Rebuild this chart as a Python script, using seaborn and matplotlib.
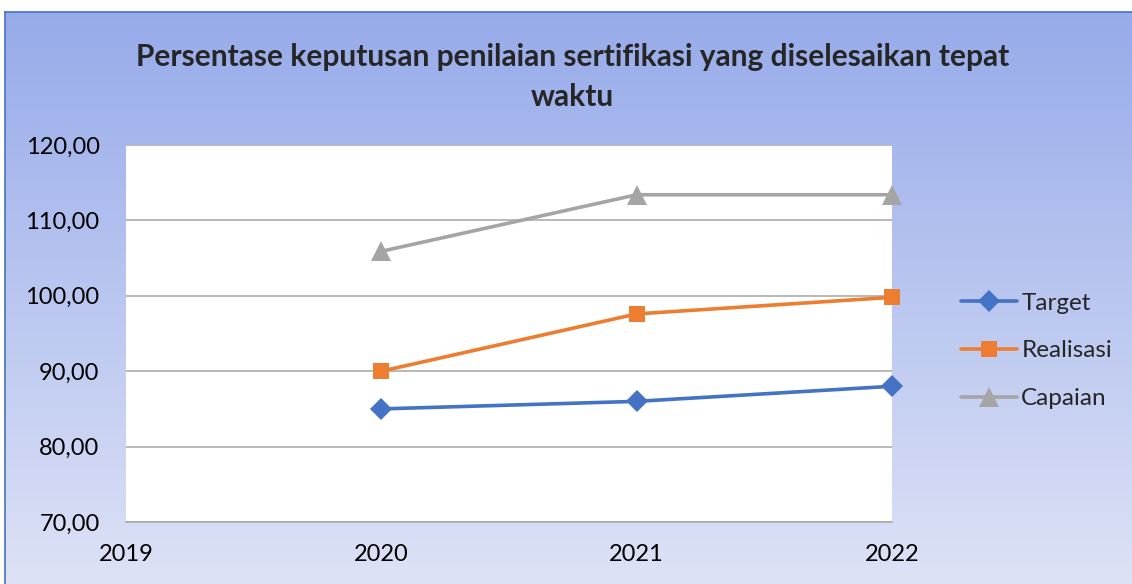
import numpy as np
import pandas as pd
import matplotlib
matplotlib.use('Agg')
import matplotlib.pyplot as plt
import matplotlib.ticker as mticker
from matplotlib.colors import LinearSegmentedColormap
import seaborn as sns

sns.set_style('white')
plt.rcParams['font.family'] = ['Lato', 'DejaVu Sans']

# data
years = [2020, 2021, 2022]
target = [85.0, 86.0, 88.0]
realisasi = [90.0, 97.6, 99.8]
capaian = [105.9, 113.4, 113.4]
series_names = ['Target', 'Realisasi', 'Capaian']
title = 'Persentase keputusan penilaian sertifikasi yang diselesaikan tepat\nwaktu'

df = pd.DataFrame({
    'year': years * 3,
    'value': target + realisasi + capaian,
    'series': [s for s in series_names for _ in years],
})

colors = {'Target': '#4472C4', 'Realisasi': '#ED7D31', 'Capaian': '#A5A5A5'}
markers = {'Target': 'D', 'Realisasi': 's', 'Capaian': '^'}

fig = plt.figure(figsize=(11.32, 5.84), dpi=100)

# gradient background panel with a thin blue frame
bg = fig.add_axes([5 / 1132, 0, 1 - 5 / 1132, 572 / 584], zorder=-5)
cmap = LinearSegmentedColormap.from_list('bg', ['#97ABEA', '#DDE2F6'])
bg.imshow(np.linspace(0, 1, 256).reshape(-1, 1), aspect='auto', cmap=cmap,
          extent=[0, 1, 0, 1], origin='upper')
bg.set_xlim(0, 1)
bg.set_ylim(0, 1)
for s in ['top', 'left']:
    bg.spines[s].set_color('#4472C4')
    bg.spines[s].set_linewidth(1.2)
for s in ['bottom', 'right']:
    bg.spines[s].set_visible(False)
bg.set_xticks([])
bg.set_yticks([])

ax = fig.add_axes([126 / 1132, 62 / 584, 766 / 1132, 377 / 584])
ax.set_facecolor('white')
sns.lineplot(data=df, x='year', y='value', hue='series', style='series',
             palette=colors, markers=markers, dashes=False, linewidth=2.6,
             markersize=11.5, markeredgewidth=0, ax=ax)

ax.set_xlim(2019, 2022)
ax.set_ylim(70, 120)
ax.set_xticks([2019, 2020, 2021, 2022])
ax.set_yticks(np.arange(70, 121, 10))
ax.yaxis.set_major_formatter(mticker.FuncFormatter(lambda v, p: f'{v:.2f}'.replace('.', ',')))
ax.grid(axis='y', color='#A6A6A6', linewidth=1.1)
ax.grid(axis='x', visible=False)
ax.set_axisbelow(True)
for s in ['top', 'left', 'right']:
    ax.spines[s].set_visible(False)
ax.spines['bottom'].set_color('#A6A6A6')
ax.spines['bottom'].set_linewidth(1.1)
ax.tick_params(axis='both', length=0, labelsize=17, colors='black')
ax.tick_params(axis='x', pad=16)
ax.tick_params(axis='y', pad=19)
ax.set_xlabel('')
ax.set_ylabel('')
for line in ax.lines:
    line.set_clip_on(False)
    if line.get_marker() == '^':
        line.set_markersize(14)

handles, labels = ax.get_legend_handles_labels()
for h in handles:
    if h.get_marker() == '^':
        h.set_markersize(14)
ax.legend(handles, labels, loc='center left', bbox_to_anchor=(1.061, 0.454),
          frameon=False, fontsize=17.5, handlelength=2.3, handletextpad=0.2,
          labelspacing=1.1)

fig.text(0.506, 0.868, title, ha='center', va='center', fontsize=21.5,
         fontweight='bold', linespacing=1.55)

fig.savefig('out.png', dpi=100)
